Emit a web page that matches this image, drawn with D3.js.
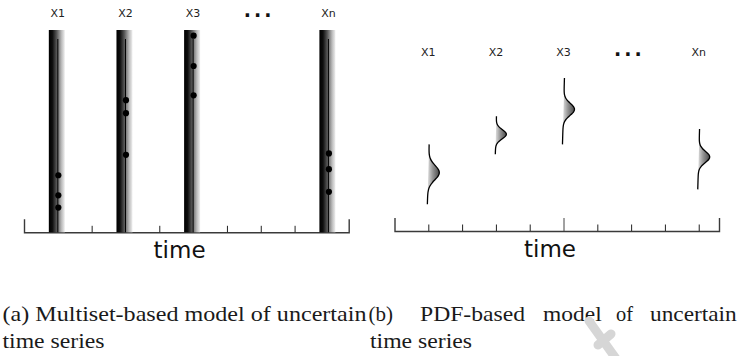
<!DOCTYPE html>
<html>
<head>
<meta charset="utf-8">
<script src="https://cdn.jsdelivr.net/npm/d3@7.9.0/dist/d3.min.js"></script>
<style>
  html, body { margin: 0; padding: 0; background: #fff; }
  svg { display: block; }
</style>
</head>
<body>
<svg id="chart" width="741" height="356"></svg>
<script>
// ---- data ----
const labels = ['X1', 'X2', 'X3', 'Xn'];
const times = [1, 3, 5, 9];          // time index of each observed point
const gapTime = 6.95;                // where the "..." sits
const timeLabelAt = 4.6;             // where the "time" label sits
const tickTimes = [1, 2, 3, 4, 5, 6, 7, 8, 9];

// (a) multiset model: observed values per time point (0-100 units)
const multisets = [
  [28.2, 18.3, 12.2],
  [65.3, 58.9, 38.3],
  [97.2, 82.2, 67.7],
  [39.0, 31.2, 20.0]
];

// (b) pdf model: mean, sd, support and peak height per time point
const pdfMean = [29.0, 48.1, 60.5, 36.8];
const pdfSd = [3.6, 2.3, 3.0, 2.8];
const pdfLo = [13.3, 38.2, 43.1, 20.7];
const pdfHi = [43.1, 57.1, 76.1, 50.7];
const pdfPeak = [1, 0.95, 1, 1];

const captionA = ['(a) Multiset-based model of uncertain', 'time series'];
const captionBWords = ['(b)', 'PDF-based', 'model', 'of', 'uncertain'];
const captionB2 = 'time series';

const svg = d3.select('#chart');
const defs = svg.append('defs');

// gradient for the multiset bars (dark left edge fading out to the right)
const barGrad = defs.append('linearGradient').attr('id', 'barGrad')
  .attr('x1', 0).attr('x2', 1).attr('y1', 0).attr('y2', 0);
[[0, '#000'], [0.22, '#0d0d0d'], [0.5, '#5a5a5a'], [0.8, '#bdbdbd'], [1, '#efefef']]
  .forEach(([o, c]) => barGrad.append('stop').attr('offset', o).attr('stop-color', c));

// gradient for the pdf fills
const pdfGrad = defs.append('linearGradient').attr('id', 'pdfGrad')
  .attr('x1', 0).attr('x2', 1).attr('y1', 0).attr('y2', 0);
[[0, '#e4e4e4'], [0.45, '#959595'], [1, '#4a4a4a']]
  .forEach(([o, c]) => pdfGrad.append('stop').attr('offset', o).attr('stop-color', c));

// ---- shared helpers ----
function drawAxis(g, tScale, axisY, tallTick) {
  const axis = d3.axisTop(tScale)
    .tickValues(tickTimes)
    .tickFormat('')
    .tickSizeInner(6.5)
    .tickSizeOuter(13);
  const a = g.append('g')
    .attr('transform', `translate(0,${axisY})`)
    .call(axis);
  a.select('.domain').attr('stroke', '#3a3a3a').attr('stroke-width', 1.4);
  a.selectAll('.tick line').attr('stroke', '#222').attr('stroke-width', 1);
  if (tallTick != null) {
    a.selectAll('.tick line').filter(d => d === tallTick).attr('y2', -13).attr('stroke', '#444');
  }
  return a;
}

function drawHeader(g, tScale, y) {
  g.selectAll('text.lbl')
    .data(labels)
    .join('text')
    .attr('class', 'lbl')
    .attr('x', (d, i) => tScale(times[i]))
    .attr('y', y)
    .attr('text-anchor', 'middle')
    .attr('font-family', 'DejaVu Sans')
    .attr('font-size', 11)
    .attr('fill', '#222')
    .text(d => d);
  g.append('text')
    .attr('x', tScale(gapTime))
    .attr('y', y)
    .attr('text-anchor', 'middle')
    .attr('font-family', 'DejaVu Sans')
    .attr('font-weight', 'bold')
    .attr('font-size', 19)
    .attr('letter-spacing', 3)
    .attr('fill', '#111')
    .text('...');
}

function drawTimeLabel(g, tScale, y) {
  g.append('text')
    .attr('x', tScale(timeLabelAt))
    .attr('y', y)
    .attr('text-anchor', 'middle')
    .attr('font-family', 'DejaVu Sans')
    .attr('font-size', 23)
    .attr('fill', '#111')
    .text('time');
}

// ---- (a) multiset panel ----
const tL = d3.scaleLinear().domain([0, 9.6]).range([24, 348.7]);
const yL = d3.scaleLinear().domain([0, 100]).range([232.3, 30]);
const gA = svg.append('g');

drawAxis(gA, tL, yL(0));
drawHeader(gA, tL, 17);
drawTimeLabel(gA, tL, 258.3);

const cols = gA.selectAll('g.col')
  .data(multisets)
  .join('g')
  .attr('class', 'col')
  .attr('transform', (d, i) => `translate(${tL(times[i])},0)`);

cols.append('rect')
  .attr('x', -9)
  .attr('width', 16)
  .attr('y', yL(100))
  .attr('height', yL(0) - yL(100))
  .attr('fill', 'url(#barGrad)');

cols.append('line')
  .attr('x1', 0).attr('x2', 0)
  .attr('y1', yL(100) + 9)
  .attr('y2', yL(0))
  .attr('stroke', '#000')
  .attr('stroke-width', 1);

cols.selectAll('circle')
  .data(d => d)
  .join('circle')
  .attr('cx', 0.5)
  .attr('cy', d => yL(d))
  .attr('r', 3.1)
  .attr('fill', '#000');

// ---- (b) pdf panel ----
const tR = d3.scaleLinear().domain([0, 9.6]).range([394.5, 719]);
const yR = d3.scaleLinear().domain([0, 100]).range([231, 30]);
const wR = d3.scaleLinear().domain([0, 1]).range([0, 11]);
const gB = svg.append('g');

drawAxis(gB, tR, yR(0), 5);
drawHeader(gB, tR, 56);
drawTimeLabel(gB, tR, 256.7);

const lean = 0.06; // slight tilt of each pdf baseline, px per unit

const pdfs = times.map((t, i) => {
  const vals = d3.range(pdfHi[i], pdfLo[i] - 0.01, -(pdfHi[i] - pdfLo[i]) / 80);
  const x0 = tR(t);
  const base = v => x0 + (v - pdfMean[i]) * lean;
  const dens = v => pdfPeak[i] * Math.exp(-0.5 * ((v - pdfMean[i]) / pdfSd[i]) ** 2);
  return {
    curve: vals.map(v => [base(v) + wR(dens(v)), yR(v)]),
    baseLine: vals.slice().reverse().map(v => [base(v), yR(v)])
  };
});

const line = d3.line().curve(d3.curveBasis);

gB.selectAll('path.fill')
  .data(pdfs)
  .join('path')
  .attr('class', 'fill')
  .attr('d', d => line(d.curve) + 'L' + d.baseLine.map(p => p.join(',')).join('L') + 'Z')
  .attr('fill', 'url(#pdfGrad)')
  .attr('stroke', 'none');

gB.selectAll('path.outline')
  .data(pdfs)
  .join('path')
  .attr('class', 'outline')
  .attr('d', d => line(d.curve))
  .attr('fill', 'none')
  .attr('stroke', '#000')
  .attr('stroke-width', 1.3);

// ---- captions ----
const cap = svg.append('g')
  .attr('font-family', 'Liberation Serif')
  .attr('font-size', 21)
  .attr('fill', '#1a1a1a');

const line1Y = 320.5, line2Y = 347.5;

cap.append('text').attr('x', 2.5).attr('y', line1Y)
  .attr('textLength', 364).attr('lengthAdjust', 'spacingAndGlyphs')
  .text(captionA[0]);
cap.append('text').attr('x', 2.5).attr('y', line2Y)
  .attr('textLength', 102).attr('lengthAdjust', 'spacingAndGlyphs')
  .text(captionA[1]);

const bStarts = [368.5, 420, 543, 616, 650];
const bWidths = [24.5, 105, 58.7, 17, 86.7];
cap.selectAll('text.bw')
  .data(captionBWords)
  .join('text')
  .attr('class', 'bw')
  .attr('x', (d, i) => bStarts[i])
  .attr('y', line1Y)
  .attr('textLength', (d, i) => bWidths[i])
  .attr('lengthAdjust', 'spacingAndGlyphs')
  .text(d => d);
cap.append('text').attr('x', 370).attr('y', line2Y)
  .attr('textLength', 102).attr('lengthAdjust', 'spacingAndGlyphs')
  .text(captionB2);

// faint preprint watermark
svg.append('path')
  .attr('d', 'M589,321L617,360M598,345L611,334')
  .attr('fill', 'none')
  .attr('stroke', '#d6d6d6')
  .attr('stroke-width', 9)
  .attr('stroke-linecap', 'round');
</script>
</body>
</html>
